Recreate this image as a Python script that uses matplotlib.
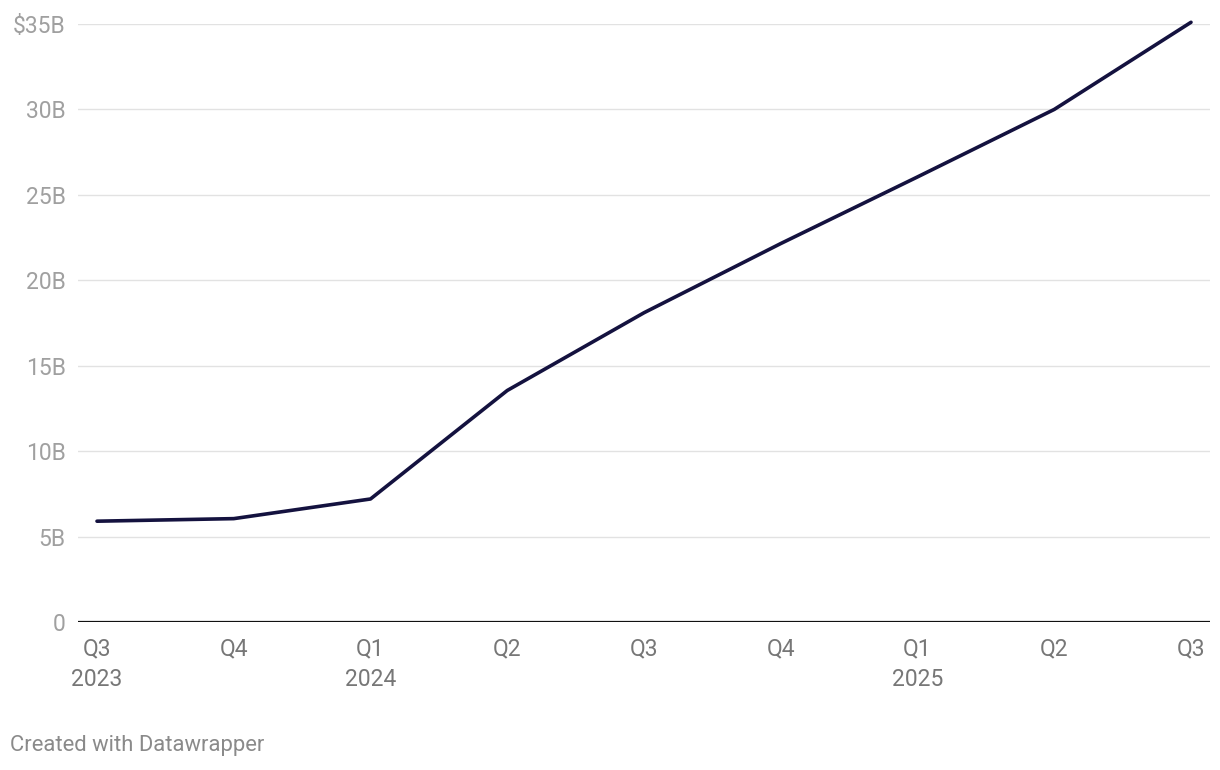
import matplotlib.pyplot as plt

quarters = ['Q3\n2023', 'Q4', 'Q1\n2024', 'Q2', 'Q3', 'Q4', 'Q1\n2025', 'Q2', 'Q3']
values = [5.9, 6.05, 7.2, 13.55, 18.1, 22.15, 26.05, 30.0, 35.1]
yticks = [0, 5, 10, 15, 20, 25, 30, 35]
ylabels = ['0', '5B', '10B', '15B', '20B', '25B', '30B', '$35B']

plt.rcParams['font.family'] = ['Roboto', 'DejaVu Sans']

fig = plt.figure(figsize=(12.2, 7.7), dpi=100)
ax = fig.add_axes([78 / 1220, 1 - 622 / 770, 1132 / 1220, 598 / 770])

x = list(range(len(values)))
ax.plot(x, values, color='#14123f', lw=2.6, solid_capstyle='round',
        solid_joinstyle='round', clip_on=False, zorder=3)

ax.set_xlim(-19 / 136.75, 8 + 19 / 136.75)
ax.set_ylim(0, 35)

for v in yticks[1:]:
    ax.axhline(v, color='#e2e2e2', lw=1.0, zorder=1)
ax.axhline(0, color='#111111', lw=1.6, zorder=2)

ax.set_yticks(yticks)
ax.set_yticklabels(ylabels)
ax.set_xticks(x)
ax.set_xticklabels(quarters, linespacing=1.42, va='top')
ax.tick_params(axis='y', length=0, pad=9, labelsize=16.5, labelcolor='#a0a0a0')
ax.tick_params(axis='x', length=0, pad=11, labelsize=16.5, labelcolor='#777777')
for s in ax.spines.values():
    s.set_visible(False)

fig.text(10 / 1220, 1 - 745 / 770, 'Created with Datawrapper', fontsize=15.8,
         color='#8a8a8a', va='center', ha='left')

fig.savefig('out.png', dpi=100, facecolor='white')
